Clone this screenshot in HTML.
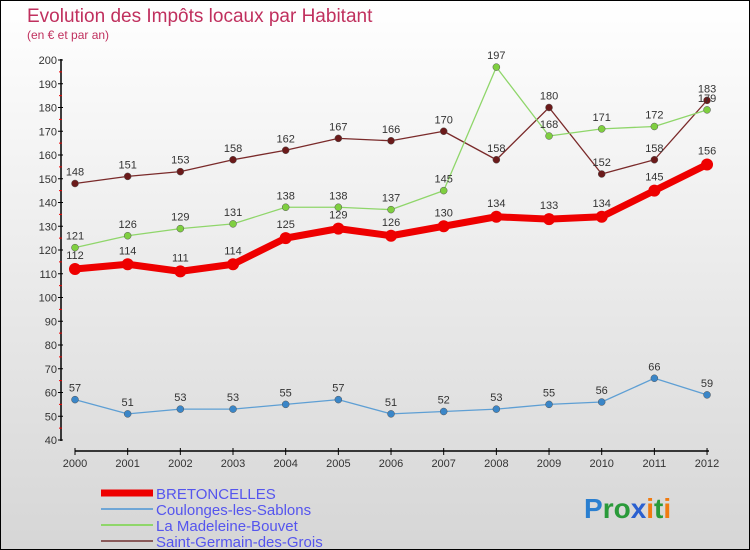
<!DOCTYPE html>
<html><head><meta charset="utf-8"><style>
body{margin:0}
#c{width:750px;height:550px;position:relative;overflow:hidden;box-sizing:border-box;border:1px solid #000;background:linear-gradient(#fff,#d6d6d6);font-family:"Liberation Sans",sans-serif}
</style></head><body>
<div id="c">
<svg id="s" width="748" height="548" xmlns="http://www.w3.org/2000/svg" style="position:absolute;left:0;top:0"></svg>
</div>
<script>
const years=["2000","2001","2002","2003","2004","2005","2006","2007","2008","2009","2010","2011","2012"];
const bret=[112,114,111,114,125,129,126,130,134,133,134,145,156];
const coul=[57,51,53,53,55,57,51,52,53,55,56,66,59];
const made=[121,126,129,131,138,138,137,145,197,168,171,172,179];
const saint=[148,151,153,158,162,167,166,170,158,180,152,158,183];
const yTicks=[40,50,60,70,80,90,100,110,120,130,140,150,160,170,180,190,200];
const NS="http://www.w3.org/2000/svg";
const s=document.getElementById('s');
const X=i=>74+i*52.67, Y=v=>439-(v-40)*2.375;
function el(t,a,txt){const e=document.createElementNS(NS,t);for(const k in a)e.setAttribute(k,a[k]);if(txt!==undefined)e.textContent=txt;s.appendChild(e);return e;}
let t=el('text',{x:26,y:21,fill:'#c0305e','font-size':19},'Evolution des Impôts locaux par Habitant');

t=el('text',{x:26,y:38,fill:'#c0305e','font-size':12},'(en € et par an)');

let a=el('line',{x1:60,y1:58,x2:60,y2:440,stroke:'#000','stroke-width':1.5});

yTicks.forEach(v=>{el('line',{x1:57,y1:Y(v),x2:62,y2:Y(v),stroke:'#000'});
 if(v<200)el('line',{x1:58,y1:Y(v+5),x2:61,y2:Y(v+5),stroke:'#e00'});
 const l=el('text',{x:56,y:Y(v)+4,'text-anchor':'end','font-size':11,fill:'#333'},v);
 });
a=el('line',{x1:74,y1:450,x2:708,y2:450,stroke:'#000','stroke-width':1.5});

years.forEach((y,i)=>{el('line',{x1:X(i),y1:447,x2:X(i),y2:454,stroke:'#000'});
 const l=el('text',{x:X(i),y:466,'text-anchor':'middle','font-size':11,fill:'#333'},y);
 });
function series(d,col,w,r,name,dot,dy){
 const p=el('polyline',{points:d.map((v,i)=>X(i)+','+Y(v)).join(' '),fill:'none',stroke:col,'stroke-width':w,'stroke-linejoin':'round'});
 
 d.forEach((v,i)=>{const c=el('circle',{cx:X(i),cy:Y(v),r:r,fill:dot,stroke:w>3?'none':'#555','stroke-width':0.5});
  
  const l=el('text',{x:X(i),y:Y(v)-dy,'text-anchor':'middle','font-size':11,fill:'#333'},v);
  });
}
series(saint,'#7a2a2a',1.3,3.5,'saint-germain','#6b1a1a',8);
series(made,'#8fd66a',1.3,3.5,'la-madeleine','#7fcf40',8);
series(coul,'#5e9fd4',1.3,3.5,'coulonges','#3a86c8',8);
series(bret,'#ee0000',7,6,'bretoncelles','#ee0000',10);
const leg=[['BRETONCELLES','#ee0000',7],['Coulonges-les-Sablons','#6fa6d6',2],['La Madeleine-Bouvet','#8fd66a',2],['Saint-Germain-des-Grois','#8a5a5a',2]];
leg.forEach((g,i)=>{const y=492+i*16;
 const l=el('line',{x1:100,y1:y,x2:152,y2:y,stroke:g[1],'stroke-width':g[2]});
 
 const tx=el('text',{x:155,y:y+6,'font-size':15,fill:'#5555ee'},g[0]);
 });
const lg=el('text',{x:583,y:517,'font-size':28,'font-weight':'bold'});

[['P','#2a7fd0'],['ro','#2a9a3a'],['x','#2a60d0'],['i','#f07b10'],['t','#2a9a3a'],['i','#f07b10']].forEach(p=>{const ts=document.createElementNS(NS,'tspan');ts.setAttribute('fill',p[1]);ts.textContent=p[0];lg.appendChild(ts);});
</script>
</body></html>
